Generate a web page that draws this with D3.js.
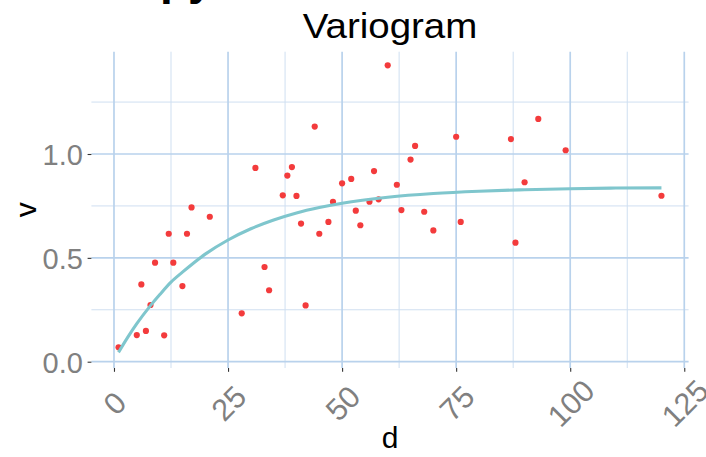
<!DOCTYPE html>
<html>
<head>
<meta charset="utf-8">
<script src="https://cdn.jsdelivr.net/npm/d3@7"></script>
<style>
  body { margin: 0; background: #ffffff; overflow: hidden; }
  svg { display: block; }
  text { font-family: "Liberation Sans", Arial, Helvetica, sans-serif; }
</style>
</head>
<body>
<svg id="chart" width="706" height="457"></svg>
<script>
// Empirical semivariance by lag distance
const lagDistance = [1, 5, 6, 7, 8, 9, 11, 12, 13, 15, 16, 17, 21, 28, 31, 33, 34, 37, 38, 39,
  40, 41, 42, 44, 45, 47, 48, 50, 52, 53, 54, 56, 57, 58, 60, 62, 63, 65, 66, 68,
  70, 75, 76, 87, 88, 90, 93, 99, 120];
const semivariance = [0.069, 0.128, 0.372, 0.148, 0.273, 0.477, 0.127, 0.616, 0.477, 0.364,
  0.616, 0.743, 0.698, 0.233, 0.933, 0.456, 0.344, 0.801, 0.896, 0.937,
  0.798, 0.665, 0.271, 1.132, 0.616, 0.673, 0.770, 0.859, 0.880, 0.727,
  0.657, 0.770, 0.918, 0.782, 1.427, 0.852, 0.730, 0.973, 1.039, 0.722,
  0.632, 1.083, 0.673, 1.072, 0.573, 0.864, 1.169, 1.018, 0.799];

// Fitted model curve, sampled along the lag axis
const modelLag = [1, 3, 5, 8, 10, 12.5, 15, 20, 25, 30, 35, 40, 45, 50, 60, 70, 80, 90, 100, 110, 120];
const modelGamma = [0.045, 0.117, 0.183, 0.270, 0.322, 0.383, 0.431, 0.518, 0.586, 0.640, 0.682,
  0.716, 0.742, 0.763, 0.792, 0.810, 0.821, 0.828, 0.833, 0.836, 0.837];

const xTicks = [0, 25, 50, 75, 100, 125];
const xMinorTicks = [12.5, 37.5, 62.5, 87.5, 112.5];
const yTicks = [0, 0.5, 1.0];
const yMinorTicks = [0.25, 0.75, 1.25];

const titleText = "Variogram";
const xTitle = "d";
const yTitle = "v";
const headingAbove = "py";

const panel = { left: 91.4, right: 688.6, top: 51.7, bottom: 368 };

const svg = d3.select("#chart");

const x = d3.scaleLinear().domain([-4.95, 125.95]).range([panel.left, panel.right]);
const y = d3.scaleLinear().domain([-0.0303, 1.4925]).range([panel.bottom, panel.top]);

// Heading of the block above, mostly outside the frame
svg.append("text")
  .attr("x", 160).attr("y", -6.5)
  .attr("font-size", 46)
  .attr("font-weight", "bold")
  .attr("fill", "#000")
  .text(headingAbove);

// Grid
const grid = svg.append("g");
grid.selectAll("line.xminor").data(xMinorTicks).join("line")
  .attr("x1", d => x(d)).attr("x2", d => x(d))
  .attr("y1", panel.top).attr("y2", panel.bottom)
  .attr("stroke", "#cfdff1").attr("stroke-width", 1);
grid.selectAll("line.yminor").data(yMinorTicks).join("line")
  .attr("y1", d => y(d)).attr("y2", d => y(d))
  .attr("x1", panel.left).attr("x2", panel.right)
  .attr("stroke", "#cfdff1").attr("stroke-width", 1);
grid.selectAll("line.xmajor").data(xTicks).join("line")
  .attr("x1", d => x(d)).attr("x2", d => x(d))
  .attr("y1", panel.top).attr("y2", panel.bottom)
  .attr("stroke", "#b9d2ec").attr("stroke-width", 1.7);
grid.selectAll("line.ymajor").data(yTicks).join("line")
  .attr("y1", d => y(d)).attr("y2", d => y(d))
  .attr("x1", panel.left).attr("x2", panel.right)
  .attr("stroke", "#b9d2ec").attr("stroke-width", 1.7);

// Axes (ticks only, no domain line)
const xAxis = svg.append("g")
  .attr("transform", `translate(0,${panel.bottom})`)
  .call(d3.axisBottom(x).tickValues(xTicks).tickSize(3.8).tickFormat(d3.format("d")));
xAxis.select(".domain").remove();
xAxis.selectAll(".tick line").attr("stroke", "#333333").attr("stroke-width", 1.1);
xAxis.selectAll(".tick text")
  .attr("fill", "#808080")
  .attr("font-size", 30.5)
  .attr("text-anchor", "middle")
  .attr("dominant-baseline", "central")
  .attr("y", 0).attr("dy", null)
  .attr("transform", "translate(0,35) rotate(-45)");

const yAxis = svg.append("g")
  .attr("transform", `translate(${panel.left},0)`)
  .call(d3.axisLeft(y).tickValues(yTicks).tickSize(3.8).tickFormat(d3.format(".1f")));
yAxis.select(".domain").remove();
yAxis.selectAll(".tick line").attr("stroke", "#333333").attr("stroke-width", 1.1);
yAxis.selectAll(".tick text")
  .attr("fill", "#808080")
  .attr("font-size", 29)
  .attr("x", -8.5)
  .attr("dy", "0.36em");

// Points
svg.append("g").selectAll("circle").data(lagDistance).join("circle")
  .attr("cx", (d, i) => x(d))
  .attr("cy", (d, i) => y(semivariance[i]))
  .attr("r", 3.1)
  .attr("fill", "#f33b3c");

// Model line
const line = d3.line()
  .x((d, i) => x(modelLag[i]))
  .y((d, i) => y(modelGamma[i]))
  .curve(d3.curveMonotoneX);
svg.append("path")
  .datum(modelLag)
  .attr("d", line)
  .attr("fill", "none")
  .attr("stroke", "#7fc6cd")
  .attr("stroke-width", 3.1)
  .attr("stroke-linecap", "butt");

// Titles
const cx = (panel.left + panel.right) / 2;
svg.append("text")
  .attr("transform", `translate(${cx},37.7) scale(1.1,1)`)
  .attr("text-anchor", "middle")
  .attr("font-size", 35)
  .attr("fill", "#000")
  .text(titleText);

svg.append("text")
  .attr("x", cx).attr("y", 448)
  .attr("text-anchor", "middle")
  .attr("font-size", 30)
  .attr("fill", "#000")
  .text(xTitle);

svg.append("text")
  .attr("transform", `translate(35.5,${(panel.top + panel.bottom) / 2}) rotate(-90)`)
  .attr("text-anchor", "middle")
  .attr("font-size", 30)
  .attr("fill", "#000")
  .text(yTitle);
</script>
</body>
</html>
